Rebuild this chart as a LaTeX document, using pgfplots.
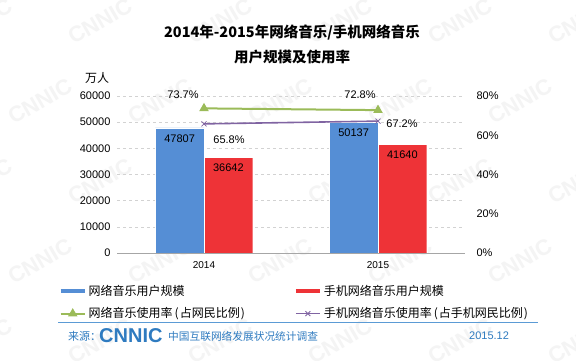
\documentclass[border=0pt]{standalone}
\usepackage{fontspec}
\setmainfont{Liberation Sans}
\newfontfamily\cjk{Noto Sans CJK SC}
\usepackage{pgfplots}
\pgfplotsset{compat=1.18}
\definecolor{cblue}{HTML}{558ED5}
\definecolor{cred}{HTML}{EE3337}
\definecolor{cgreen}{HTML}{9BBB59}
\definecolor{cpurple}{HTML}{8064A2}
\definecolor{srcblue}{HTML}{2F7BC0}
\definecolor{linblue}{HTML}{5B9BD5}
\definecolor{wm}{HTML}{F4F4F4}
\newcommand{\lp}{\kern2pt(\kern1pt}
\newcommand{\rp}{\kern1pt)}
\begin{document}
\begin{tikzpicture}[x=1pt,y=1pt]
\path[use as bounding box, fill=white] (0,0) rectangle (576,361);
% watermark
\foreach \j in {0,...,4}{
  \foreach \i in {0,...,5}{
    \node[rotate=30, text=wm, font=\bfseries\fontsize{22}{22}\selectfont] at ({-20+\i*120+mod(\j,2)*60}, {20+\j*80}) {CNNIC};
  }
}
% title
\node[font=\cjk\bfseries\fontsize{14.5}{14.5}\selectfont] at (292,328) {2014年-2015年网络音乐/手机网络音乐};
\node[font=\cjk\bfseries\fontsize{14.5}{14.5}\selectfont] at (292,304) {用户规模及使用率};
\node[font=\cjk\fontsize{12}{12}\selectfont] at (97,283) {万人};

\begin{axis}[
  at={(117pt,108pt)}, anchor=south west, scale only axis,
  width=348pt, height=157pt,
  xmin=-0.5, xmax=1.5, ymin=0, ymax=60000,
  ytick={0,10000,...,60000},
  xtick={0,1}, xticklabels={2014,2015},
  scaled y ticks=false,
  /pgf/number format/1000 sep={},
  /pgf/number format/assume math mode=true,
  axis x line=bottom, axis y line=left,
  x axis line style={-, draw=gray!70},
  y axis line style={draw=none},
  major tick length=0,
  ymajorgrids, grid style={dashed, gray!35},
  ticklabel style={font=\fontsize{11}{11}\selectfont},
  xticklabel style={font=\fontsize{10}{10}\selectfont, yshift=-5pt},
  yticklabel style={xshift=-3pt},
  ybar,
  nodes near coords,
  nodes near coords style={anchor=north, yshift=-3pt, font=\fontsize{11}{11}\selectfont, text=black, /pgf/number format/1000 sep={}},
]
\addplot[fill=cblue, draw=white, bar width=0.28, bar shift=-0.14] coordinates {(0,47807) (1,50137)};
\addplot[fill=cred, draw=white, bar width=0.28, bar shift=0.14] coordinates {(0,36642) (1,41640)};
\end{axis}

\begin{axis}[
  at={(117pt,108pt)}, anchor=south west, scale only axis,
  width=348pt, height=157pt,
  xmin=-0.5, xmax=1.5, ymin=0, ymax=80,
  clip=false,
  axis x line=none, axis y line*=right,
  y axis line style={draw=none},
  ytick={0,20,...,80},
  yticklabel={\pgfmathprintnumber{\tick}\%},
  /pgf/number format/assume math mode=true,
  major tick length=0,
  yticklabel style={font=\fontsize{11}{11}\selectfont, xshift=8pt},
  legend columns=2,
  legend cell align=left,
  legend style={at={(-0.168,-0.19)}, anchor=north west, draw=none, fill=none, inner sep=0pt,
    font=\cjk\fontsize{12}{12}\selectfont, row sep=7pt,
    /tikz/column 2/.style={column sep=47pt}},
  legend image code/.code={\draw[mark repeat=2, mark phase=2, #1] plot coordinates {(0pt,0pt) (12pt,0pt) (24pt,0pt)};},
]
\addlegendimage{legend image code/.code={\draw[cblue, line width=4pt] (0pt,0pt) -- (24pt,0pt);}}
\addlegendentry{网络音乐用户规模}
\addlegendimage{legend image code/.code={\draw[cred, line width=4pt] (0pt,0pt) -- (24pt,0pt);}}
\addlegendentry{手机网络音乐用户规模}
\addplot[cgreen, line width=2pt, mark=triangle*, mark size=3.5pt, mark options={solid}] coordinates {(0,73.7) (1,72.8)};
\addlegendentry{网络音乐使用率\lp 占网民比例\rp}
\addplot[cpurple, line width=1.6pt, mark=x, mark size=3.5pt, mark options={line width=0.8pt}] coordinates {(0,65.8) (1,67.2)};
\addlegendentry{手机网络音乐使用率\lp 占手机网民比例\rp}
\node[font=\fontsize{11}{11}\selectfont] at (axis cs:0,73.7) [xshift=-21pt, yshift=14pt] {73.7\%};
\node[font=\fontsize{11}{11}\selectfont] at (axis cs:1,72.8) [xshift=-18pt, yshift=15pt] {72.8\%};
\node[font=\fontsize{11}{11}\selectfont] at (axis cs:0,65.8) [xshift=25pt, yshift=-16pt] {65.8\%};
\node[font=\fontsize{11}{11}\selectfont] at (axis cs:1,67.2) [xshift=24pt, yshift=-3pt] {67.2\%};
\end{axis}

% source line
\draw[linblue, line width=1pt] (58,38) -- (538,38);
\node[anchor=west, text=srcblue, font=\cjk\fontsize{11}{11}\selectfont, inner sep=0pt] at (68,25) {来源：};
\node[anchor=west, text=srcblue, font=\bfseries\fontsize{20}{20}\selectfont, inner sep=0pt] at (99,25) {CNNIC};
\node[anchor=west, text=srcblue, font=\cjk\fontsize{10.7}{10.7}\selectfont, inner sep=0pt] at (168,25) {中国互联网络发展状况统计调查};
\node[anchor=west, text=srcblue, font=\fontsize{11}{11}\selectfont, inner sep=0pt] at (469,25) {2015.12};
\end{tikzpicture}
\end{document}
